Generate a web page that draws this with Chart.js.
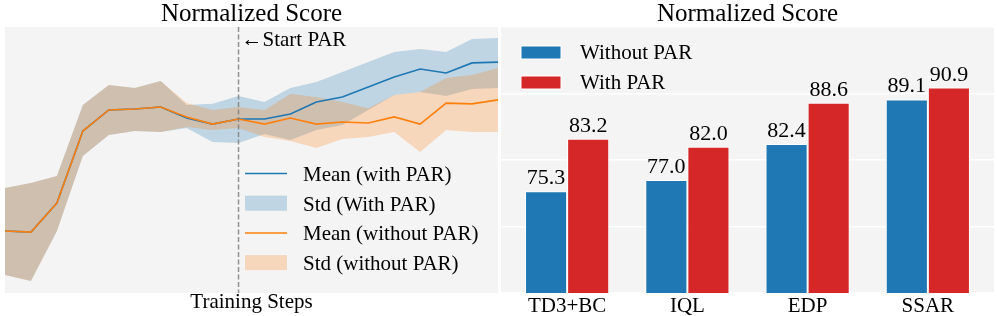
<!DOCTYPE html>
<html>
<head>
<meta charset="utf-8">
<script src="https://cdn.jsdelivr.net/npm/chart.js@4/dist/chart.umd.min.js"></script>
<style>
  html, body { margin: 0; padding: 0; background: #fff; }
  #wrap { position: relative; width: 997px; height: 316px; }
  #lineChart { position: absolute; left: 0; top: 0; }
  #barChart { position: absolute; left: 499px; top: 0; }
</style>
</head>
<body>
<div id="wrap">
  <canvas id="lineChart" width="499" height="316"></canvas>
  <canvas id="barChart" width="498" height="316"></canvas>
</div>
<script>
// ---- left panel: training curves (unitless score) ----
var steps = [0, 1, 2, 3, 4, 5, 6, 7, 8, 9, 10, 11, 12, 13, 14, 15, 16, 17, 18, 19];
var startPar = 9;

var meanWith    = [23.3, 22.9, 33.8, 60.9, 68.8, 69.2, 69.9, 65.8, 63.5, 65.4, 65.4, 67.3, 71.8, 73.7, 77.4, 81.2, 84.2, 82.7, 86.5, 86.8];
var upperWith   = [39.5, 41.4, 44.0, 70.7, 78.2, 77.1, 79.7, 70.7, 71.1, 74.1, 71.8, 77.1, 79.3, 83.1, 86.8, 90.6, 91.7, 90.6, 95.5, 95.9];
var lowerWith   = [6.8, 4.5, 23.3, 51.5, 59.4, 60.9, 60.5, 62.0, 56.8, 56.4, 59.8, 57.5, 61.3, 63.2, 68.8, 74.4, 75.6, 74.1, 76.7, 77.1];

var meanWithout  = [23.3, 22.9, 33.8, 60.9, 68.8, 69.2, 69.9, 66.2, 63.5, 65.4, 63.5, 65.8, 63.5, 64.3, 63.9, 66.2, 63.5, 71.4, 71.1, 72.6];
var upperWithout = [39.5, 41.4, 44.0, 70.7, 78.2, 77.1, 79.7, 71.4, 68.8, 69.9, 68.8, 74.8, 73.7, 71.8, 69.5, 74.4, 75.6, 80.8, 82.0, 84.6];
var lowerWithout = [6.8, 4.5, 23.3, 51.5, 59.4, 60.9, 60.5, 62.4, 61.3, 62.0, 58.6, 57.1, 54.5, 57.9, 58.6, 60.5, 53.0, 61.3, 60.5, 60.5];

// ---- right panel: bars ----
var methods = ['TD3+BC', 'IQL', 'EDP', 'SSAR'];
var scoreWithout = [75.3, 77.0, 82.4, 89.1];
var scoreWith    = [83.2, 82.0, 88.6, 90.9];

var BLUE = '#1f77b4', ORANGE = '#ff7f0e', RED = '#d62728';
var BLUE_BAND = 'rgba(31,119,180,0.25)', ORANGE_BAND = 'rgba(255,127,14,0.25)';
var SERIF = "'Liberation Serif', 'Times New Roman', serif";

Chart.defaults.font.family = SERIF;
Chart.defaults.color = '#000';
Chart.defaults.animation = false;

var bgPlugin = {
  id: 'bg',
  beforeDraw: function(chart) {
    var a = chart.chartArea, ctx = chart.ctx;
    ctx.save();
    ctx.fillStyle = '#f4f4f4';
    ctx.fillRect(a.left, a.top, a.right - a.left, a.bottom - a.top);
    ctx.restore();
  }
};

var parMarker = {
  id: 'parMarker',
  afterDatasetsDraw: function(chart) {
    var ctx = chart.ctx, a = chart.chartArea;
    var x = chart.scales.x.getPixelForValue(startPar);
    ctx.save();
    ctx.strokeStyle = 'rgba(128,128,128,0.85)';
    ctx.lineWidth = 1.5;
    ctx.setLineDash([5, 2.5]);
    ctx.beginPath();
    ctx.moveTo(x, a.top);
    ctx.lineTo(x, a.bottom);
    ctx.stroke();
    ctx.setLineDash([]);
    ctx.fillStyle = '#000';
    ctx.font = '21px ' + SERIF;
    ctx.textBaseline = 'alphabetic';
    ctx.fillText('\u2190Start PAR', x + 3, a.top + 19);
    ctx.restore();
  }
};

var lineLegend = {
  id: 'lineLegend',
  afterDraw: function(chart) {
    var ctx = chart.ctx;
    var items = [
      { text: 'Mean (with PAR)', kind: 'line', color: BLUE },
      { text: 'Std (With PAR)', kind: 'box', color: BLUE_BAND },
      { text: 'Mean (without PAR)', kind: 'line', color: ORANGE },
      { text: 'Std (without PAR)', kind: 'box', color: ORANGE_BAND }
    ];
    ctx.save();
    ctx.font = '21px ' + SERIF;
    ctx.textBaseline = 'alphabetic';
    items.forEach(function(it, k) {
      var base = 181 + k * 29.7;
      var cy = base - 7.5;
      if (it.kind === 'line') {
        ctx.strokeStyle = it.color;
        ctx.lineWidth = 1.5;
        ctx.beginPath();
        ctx.moveTo(245, cy);
        ctx.lineTo(287, cy);
        ctx.stroke();
      } else {
        ctx.fillStyle = it.color;
        ctx.fillRect(245, cy - 7.5, 42, 15);
      }
      ctx.fillStyle = '#000';
      ctx.fillText(it.text, 303, base);
    });
    ctx.restore();
  }
};

function band(data, color, fill) {
  return {
    data: data, borderWidth: 0, borderColor: 'rgba(0,0,0,0)', pointRadius: 0,
    backgroundColor: color, fill: fill, tension: 0
  };
}

new Chart(document.getElementById('lineChart'), {
  type: 'line',
  data: {
    labels: steps,
    datasets: [
      { label: 'Mean (without PAR)', data: meanWithout, borderColor: ORANGE, borderWidth: 1.6, pointRadius: 0, fill: false, tension: 0 },
      { label: 'Mean (with PAR)', data: meanWith, borderColor: BLUE, borderWidth: 1.6, pointRadius: 0, fill: false, tension: 0 },
      band(upperWithout, ORANGE_BAND, '+1'),
      band(lowerWithout, 'rgba(0,0,0,0)', false),
      band(upperWith, BLUE_BAND, '+1'),
      band(lowerWith, 'rgba(0,0,0,0)', false)
    ]
  },
  options: {
    responsive: false,
    devicePixelRatio: 1,
    layout: { padding: { left: 5, right: 1, top: 0, bottom: 0 } },
    plugins: {
      legend: { display: false },
      tooltip: { enabled: false },
      title: { display: true, text: 'Normalized Score', font: { size: 25, weight: 'normal', lineHeight: 1 }, padding: { top: 2, bottom: 0 } }
    },
    scales: {
      x: {
        type: 'category',
        offset: false,
        grid: { display: false, drawTicks: false },
        border: { display: false },
        ticks: { display: false },
        title: { display: true, text: 'Training Steps', font: { size: 21, lineHeight: 1 }, padding: { top: 0, bottom: 3.5 } },
        afterFit: function(s) { s.height = 23; }
      },
      y: { display: false, min: 0, max: 100 }
    }
  },
  plugins: [bgPlugin, parMarker, lineLegend]
});

var barLabels = {
  id: 'barLabels',
  afterDatasetsDraw: function(chart) {
    var ctx = chart.ctx;
    ctx.save();
    ctx.font = '22px ' + SERIF;
    ctx.fillStyle = '#000';
    ctx.textAlign = 'center';
    ctx.textBaseline = 'alphabetic';
    chart.data.datasets.forEach(function(ds, di) {
      chart.getDatasetMeta(di).data.forEach(function(bar, i) {
        ctx.fillText(ds.data[i].y.toFixed(1), bar.x, bar.y - 7);
      });
    });
    ctx.restore();
  }
};

var barLegend = {
  id: 'barLegend',
  afterDraw: function(chart) {
    var ctx = chart.ctx;
    ctx.save();
    ctx.font = '21px ' + SERIF;
    ctx.textBaseline = 'alphabetic';
    chart.data.datasets.forEach(function(ds, k) {
      var top = 46 + k * 30;
      ctx.fillStyle = ds.backgroundColor;
      ctx.fillRect(22, top, 40, 13);
      ctx.strokeStyle = '#fff';
      ctx.lineWidth = 1;
      ctx.strokeRect(22, top, 40, 13);
      ctx.fillStyle = '#000';
      ctx.fillText(ds.label, 81, top + 13);
    });
    ctx.restore();
  }
};

new Chart(document.getElementById('barChart'), {
  type: 'bar',
  data: {
    datasets: [
      { label: 'Without PAR', data: scoreWithout.map(function(v, i) { return { x: i, y: v }; }), backgroundColor: BLUE, borderColor: '#fff', borderWidth: 1 },
      { label: 'With PAR', data: scoreWith.map(function(v, i) { return { x: i, y: v }; }), backgroundColor: RED, borderColor: '#fff', borderWidth: 1 }
    ]
  },
  options: {
    responsive: false,
    devicePixelRatio: 1,
    categoryPercentage: 0.7,
    barPercentage: 1.0,
    layout: { padding: { left: 2, right: 3, top: 0, bottom: 0 } },
    plugins: {
      legend: { display: false },
      tooltip: { enabled: false },
      title: { display: true, text: 'Normalized Score', font: { size: 25, weight: 'normal', lineHeight: 1 }, padding: { top: 2, bottom: 0 } }
    },
    scales: {
      x: {
        type: 'linear',
        min: -0.55,
        max: 3.55,
        offset: false,
        grid: { display: false, drawTicks: false, offset: false },
        border: { display: false },
        ticks: {
          stepSize: 1,
          includeBounds: false,
          padding: 3,
          font: { size: 21, lineHeight: 1 },
          callback: function(v) { return methods[v] !== undefined ? methods[v] : ''; }
        },
        afterFit: function(s) { s.height = 23; }
      },
      y: {
        min: 60,
        max: 100,
        ticks: { display: false, stepSize: 10 },
        grid: { color: '#ffffff', lineWidth: 1.5, drawTicks: false },
        border: { display: false },
        afterFit: function(s) { s.width = 0; }
      }
    }
  },
  plugins: [bgPlugin, barLabels, barLegend]
});
</script>
</body>
</html>
